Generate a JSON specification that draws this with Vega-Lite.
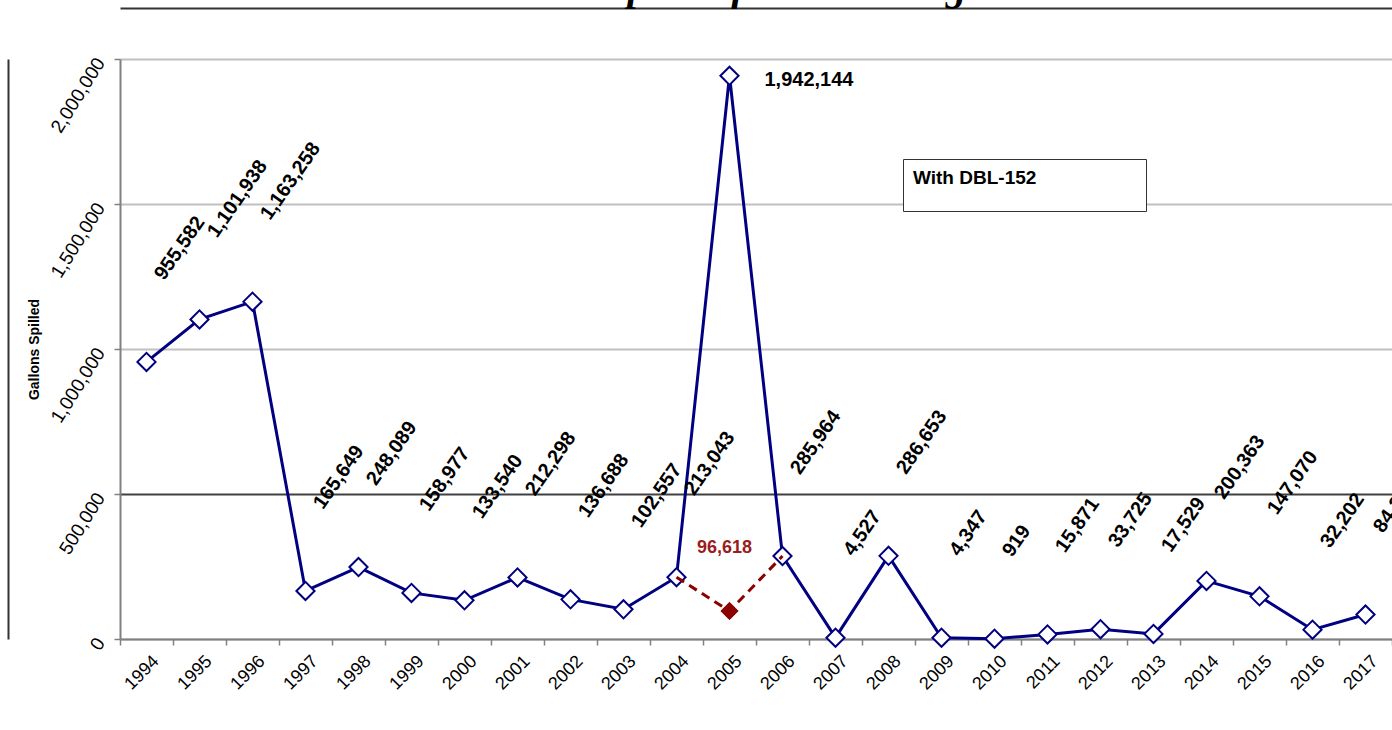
{
  "$schema": "https://vega.github.io/schema/vega-lite/v6.json",
  "width": 1272,
  "height": 580,
  "autosize": {"type": "none"},
  "padding": {"left": 120, "top": 59, "right": 0, "bottom": 91},
  "background": "white",
  "config": {"view": {"stroke": null}, "font": "Liberation Sans"},
  "title": {
    "text": "Chart 3 - Oil Spilled from All Barges",
    "font": "Liberation Serif",
    "fontSize": 41,
    "fontStyle": "italic",
    "fontWeight": "bold",
    "color": "#000000",
    "anchor": "middle",
    "frame": "group",
    "dx": -66,
    "dy": 33,
    "baseline": "alphabetic",
    "offset": 0
  },
  "resolve": {"axis": {"x": "independent", "y": "independent"}},
  "datasets": {
    "main": [
      {"year": "1994", "gallons": 955582},
      {"year": "1995", "gallons": 1101938},
      {"year": "1996", "gallons": 1163258},
      {"year": "1997", "gallons": 165649},
      {"year": "1998", "gallons": 248089},
      {"year": "1999", "gallons": 158977},
      {"year": "2000", "gallons": 133540},
      {"year": "2001", "gallons": 212298},
      {"year": "2002", "gallons": 136688},
      {"year": "2003", "gallons": 102557},
      {"year": "2004", "gallons": 213043},
      {"year": "2005", "gallons": 1942144},
      {"year": "2006", "gallons": 285964},
      {"year": "2007", "gallons": 4527},
      {"year": "2008", "gallons": 286653},
      {"year": "2009", "gallons": 4347},
      {"year": "2010", "gallons": 919},
      {"year": "2011", "gallons": 15871},
      {"year": "2012", "gallons": 33725},
      {"year": "2013", "gallons": 17529},
      {"year": "2014", "gallons": 200363},
      {"year": "2015", "gallons": 147070},
      {"year": "2016", "gallons": 32202},
      {"year": "2017", "gallons": 84319}
    ],
    "alt": [
      {"year": "2004", "gallons": 213043},
      {"year": "2005", "gallons": 96618},
      {"year": "2006", "gallons": 285964}
    ]
  },
  "layer": [
    {
      "data": {"name": "main"},
      "mark": {"type": "line", "color": "#000080", "strokeWidth": 3},
      "encoding": {
        "x": {
          "field": "year",
          "type": "ordinal",
          "scale": {"type": "band", "paddingInner": 0, "paddingOuter": 0},
          "axis": {
            "title": null,
            "grid": false,
            "tickBand": "extent",
            "domainColor": "#808080",
            "domainWidth": 2,
            "tickColor": "#808080",
            "tickWidth": 1.5,
            "tickSize": 6,
            "labelAngle": -45,
            "labelAlign": "right",
            "labelBaseline": "top",
            "labelPadding": 7,
            "labelOffset": 3,
            "labelFontSize": 18,
            "labelColor": "#000000",
            "labelFont": "Liberation Sans"
          }
        },
        "y": {
          "field": "gallons",
          "type": "quantitative",
          "scale": {"domain": [0, 2000000], "nice": false},
          "axis": {
            "values": [0, 500000, 1000000, 1500000, 2000000],
            "format": ",d",
            "title": "Gallons Spilled",
            "titleFontSize": 14,
            "titleFontWeight": "bold",
            "titleColor": "#000000",
            "titlePadding": 6,
            "grid": true,
            "gridColor": {"condition": {"test": "datum.value === 500000", "value": "#404040"}, "value": "#c0c0c0"},
            "gridWidth": 2,
            "domainColor": "#808080",
            "domainWidth": 2,
            "tickColor": "#808080",
            "tickWidth": 1.5,
            "tickSize": 6,
            "labelAngle": -58,
            "labelAlign": "right",
            "labelBaseline": "middle",
            "labelPadding": 14,
            "labelFontSize": 19,
            "labelColor": "#000000",
            "labelFont": "Liberation Sans"
          }
        }
      }
    },
    {
      "data": {"name": "main"},
      "mark": {"type": "point", "shape": "diamond", "filled": true, "fill": "white", "stroke": "#000080", "strokeWidth": 2, "size": 330, "opacity": 1},
      "encoding": {
        "x": {"field": "year", "type": "ordinal", "axis": null},
        "y": {"field": "gallons", "type": "quantitative", "axis": null}
      }
    },
    {
      "data": {"name": "alt"},
      "mark": {"type": "line", "color": "#8B0000", "strokeWidth": 3, "strokeDash": [9, 6]},
      "encoding": {
        "x": {"field": "year", "type": "ordinal", "axis": null},
        "y": {"field": "gallons", "type": "quantitative", "axis": null}
      }
    },
    {
      "data": {"name": "alt"},
      "transform": [{"filter": "datum.year === '2005'"}],
      "mark": {"type": "point", "shape": "diamond", "filled": true, "fill": "#8B0000", "stroke": "#8B0000", "strokeWidth": 1, "size": 300, "opacity": 1},
      "encoding": {
        "x": {"field": "year", "type": "ordinal", "axis": null},
        "y": {"field": "gallons", "type": "quantitative", "axis": null}
      }
    },
    {
      "data": {"name": "main"},
      "transform": [{"filter": "datum.year !== '2005'"}],
      "mark": {"type": "text", "angle": -55, "align": "left", "baseline": "middle", "dx": 76, "dy": -38, "fontSize": 20, "fontWeight": "bold", "color": "#000000"},
      "encoding": {
        "x": {"field": "year", "type": "ordinal", "axis": null},
        "y": {"field": "gallons", "type": "quantitative", "axis": null},
        "text": {"field": "gallons", "type": "quantitative", "format": ","}
      }
    },
    {
      "data": {"name": "main"},
      "transform": [{"filter": "datum.year === '2005'"}],
      "mark": {"type": "text", "align": "left", "baseline": "middle", "dx": 35, "dy": 4, "fontSize": 20, "fontWeight": "bold", "color": "#000000"},
      "encoding": {
        "x": {"field": "year", "type": "ordinal", "axis": null},
        "y": {"field": "gallons", "type": "quantitative", "axis": null},
        "text": {"field": "gallons", "type": "quantitative", "format": ","}
      }
    },
    {
      "data": {"name": "alt"},
      "transform": [{"filter": "datum.year === '2005'"}],
      "mark": {"type": "text", "align": "center", "baseline": "middle", "dy": -63, "dx": -5, "fontSize": 18, "fontWeight": "bold", "color": "#9B1C1C"},
      "encoding": {
        "x": {"field": "year", "type": "ordinal", "axis": null},
        "y": {"field": "gallons", "type": "quantitative", "axis": null},
        "text": {"field": "gallons", "type": "quantitative", "format": ","}
      }
    },
    {
      "data": {"name": "alt"},
      "mark": {"type": "point", "opacity": 0},
      "encoding": {
        "x": {
          "field": "year",
          "type": "ordinal",
          "axis": {"orient": "top", "offset": 51, "labels": false, "ticks": false, "grid": false, "title": null, "domainColor": "#333333", "domainWidth": 2}
        },
        "y": {
          "field": "gallons",
          "type": "quantitative",
          "axis": {"orient": "left", "offset": 112, "labels": false, "ticks": false, "grid": false, "title": null, "domainColor": "#333333", "domainWidth": 2}
        },
        "color": {
          "field": "gallons",
          "type": "quantitative",
          "legend": {
            "title": "With DBL-152",
            "orient": "none",
            "legendX": 783,
            "legendY": 100,
            "direction": "horizontal",
            "gradientLength": 223,
            "gradientThickness": 3,
            "gradientOpacity": 0,
            "gradientStrokeWidth": 0,
            "labelOpacity": 0,
            "labelFontSize": 1,
            "strokeColor": "#333333",
            "fillColor": "white",
            "padding": 10,
            "titleFontSize": 19,
            "titleFontWeight": "bold",
            "titleColor": "#000000",
            "titleFont": "Liberation Sans",
            "titlePadding": 7
          }
        }
      }
    }
  ]
}
